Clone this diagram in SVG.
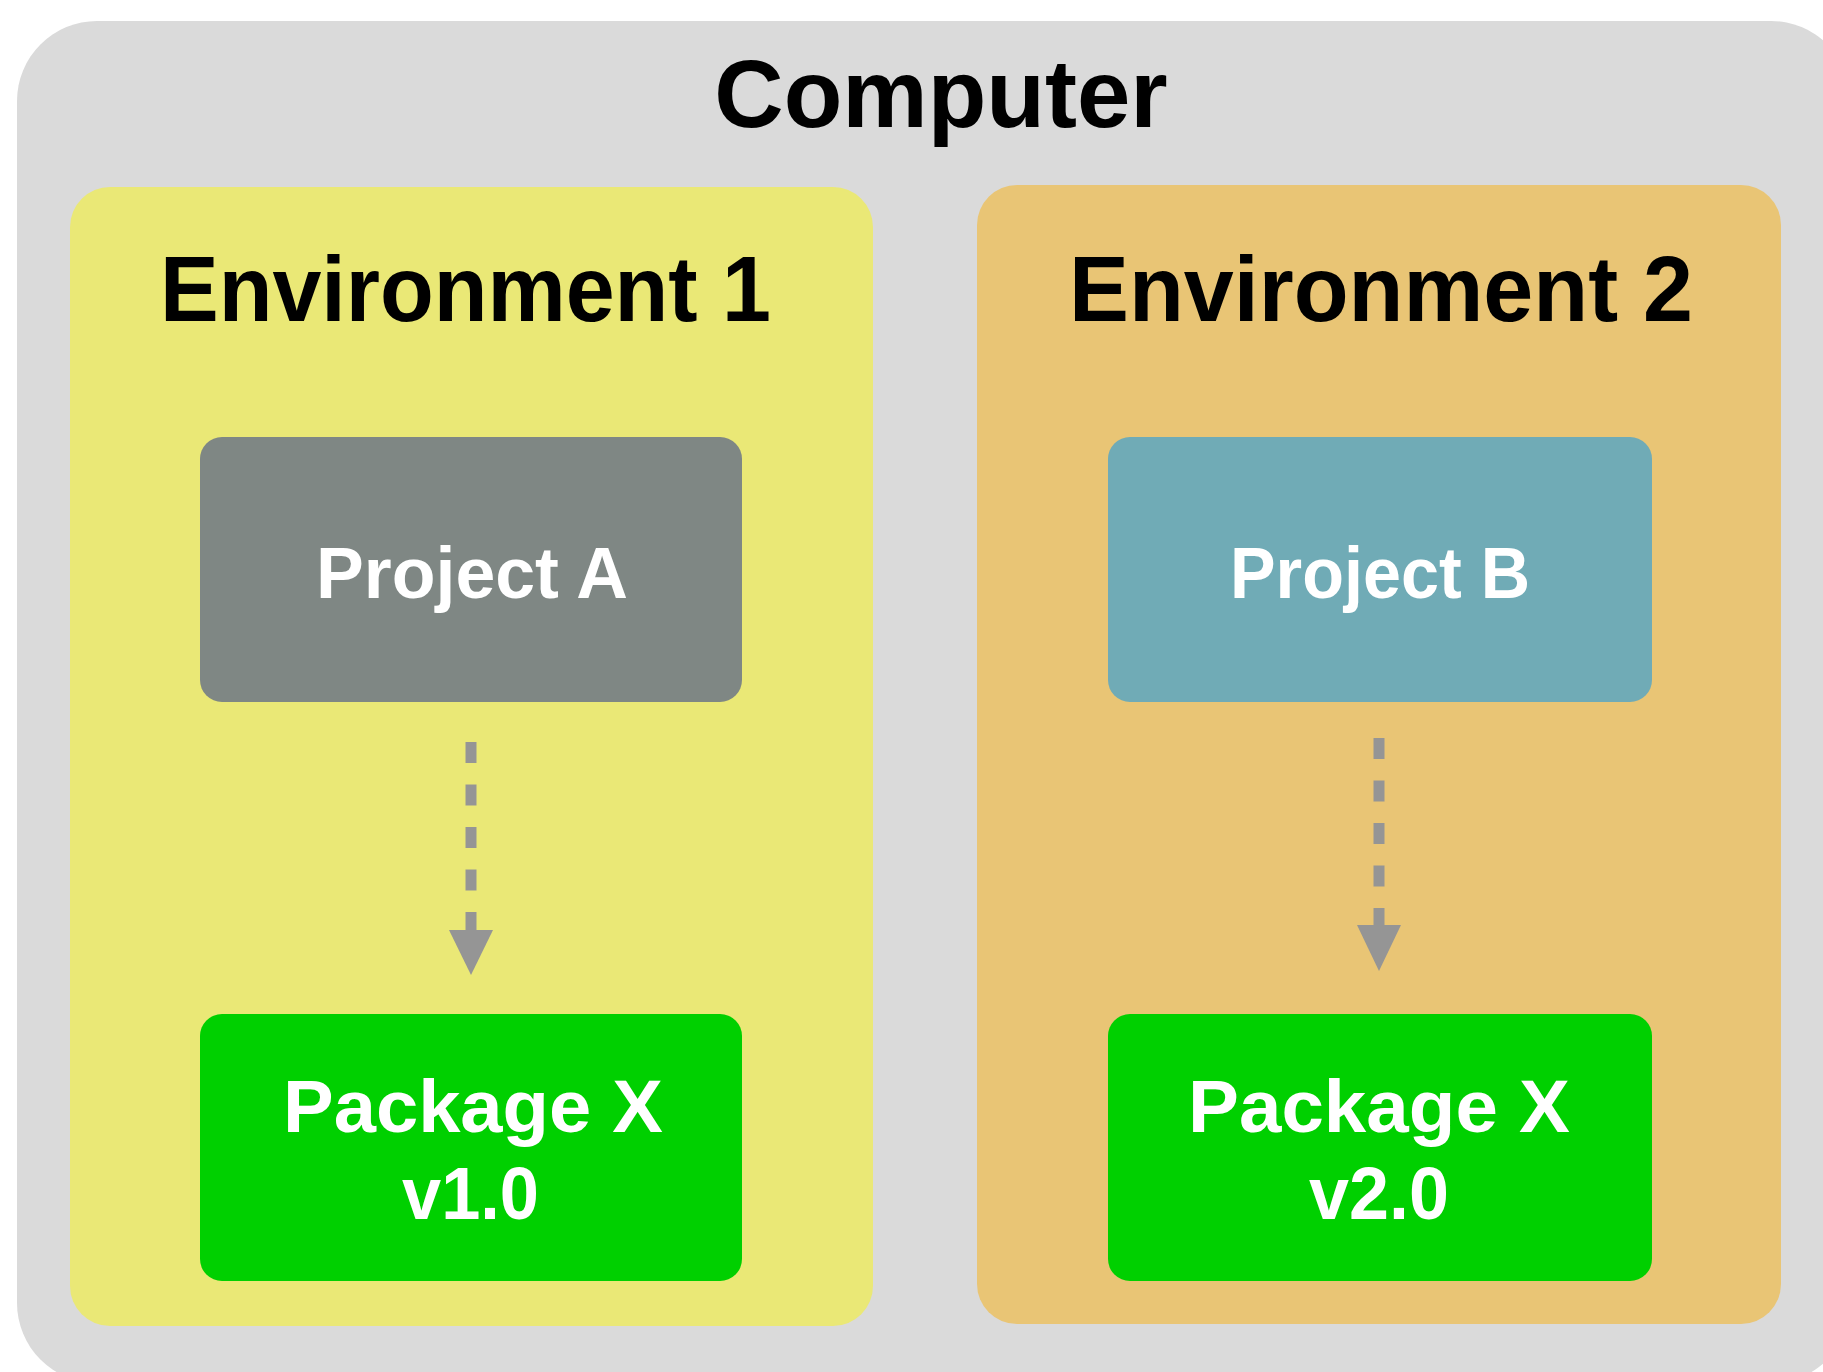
<svg xmlns="http://www.w3.org/2000/svg" width="1823" height="1372" viewBox="0 0 1823 1372">
  <style>
    text { font-family: "Liberation Sans", Arial, sans-serif; font-weight: bold; text-anchor: middle; }
    .title { font-size: 96px; fill: #000; }
    .env { font-size: 93px; fill: #000; }
    .lbl { font-size: 72px; fill: #fff; }
    .pkg { font-size: 74px; fill: #fff; }
    .dash { stroke: #959595; stroke-width: 11; stroke-dasharray: 21 21.5; fill: none; }
    .head { fill: #959595; }
  </style>
  <rect width="1823" height="1372" fill="#ffffff"/>
  <g id="computer">
    <rect x="17" y="21" width="1834" height="1362" rx="80" ry="80" fill="#dadada"/>
    <text class="title" x="941" y="127">Computer</text>
  </g>
  <g id="environment1">
    <rect x="70" y="187" width="803" height="1139" rx="40" ry="40" fill="#eae876"/>
    <text class="env" x="465.5" y="321" textLength="611" lengthAdjust="spacingAndGlyphs">Environment 1</text>
  </g>
  <g id="environment2">
    <rect x="977" y="185" width="804" height="1139" rx="40" ry="40" fill="#e9c575"/>
    <text class="env" x="1381" y="321" textLength="624" lengthAdjust="spacingAndGlyphs">Environment 2</text>
  </g>
  <g id="projectA">
    <rect x="200" y="437" width="542" height="265" rx="22" ry="22" fill="#7f8784"/>
    <text class="lbl" x="472" y="598" textLength="312" lengthAdjust="spacingAndGlyphs">Project A</text>
  </g>
  <g id="projectB">
    <rect x="1108" y="437" width="544" height="265" rx="22" ry="22" fill="#70abb6"/>
    <text class="lbl" x="1380" y="598" textLength="300" lengthAdjust="spacingAndGlyphs">Project B</text>
  </g>
  <g id="packageA">
    <rect x="200" y="1014" width="542" height="267" rx="22" ry="22" fill="#00d000"/>
    <text class="pkg" x="473" y="1132" textLength="380" lengthAdjust="spacingAndGlyphs">Package X</text>
    <text class="pkg" x="470.5" y="1219" textLength="137" lengthAdjust="spacingAndGlyphs">v1.0</text>
  </g>
  <g id="packageB">
    <rect x="1108" y="1014" width="544" height="267" rx="22" ry="22" fill="#00d000"/>
    <text class="pkg" x="1379" y="1132" textLength="382" lengthAdjust="spacingAndGlyphs">Package X</text>
    <text class="pkg" x="1379" y="1219" textLength="140" lengthAdjust="spacingAndGlyphs">v2.0</text>
  </g>
  <g id="connectors">
    <line class="dash" x1="471" y1="742" x2="471" y2="931"/>
    <polygon class="head" points="449,930 493,930 471,975"/>
    <line class="dash" x1="1379" y1="738" x2="1379" y2="926"/>
    <polygon class="head" points="1357,925 1401,925 1379,971"/>
  </g>
</svg>
